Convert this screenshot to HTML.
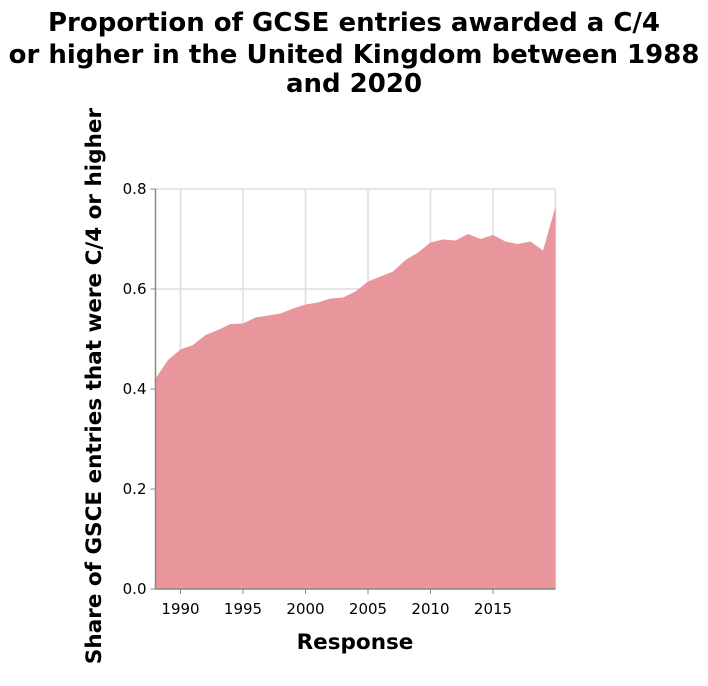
<!DOCTYPE html>
<html><head><meta charset="utf-8"><style>
body{margin:0;background:#fff;width:708px;height:682px;overflow:hidden;font-family:"DejaVu Sans","Liberation Sans",sans-serif}
</style></head><body>
<svg width="708" height="682" xmlns="http://www.w3.org/2000/svg" font-family="DejaVu Sans, Liberation Sans, sans-serif">
<g font-weight="bold" font-size="26" text-anchor="middle" fill="#000">
<text x="354" y="31">Proportion of GCSE entries awarded a C/4</text>
<text x="354" y="63">or higher in the United Kingdom between 1988</text>
<text x="354" y="92">and 2020</text>
</g>
<g id="grid"></g>
<path id="area" fill="#e8969b"/>
<g id="axes"></g>
<text x="355" y="649" font-size="21.5" font-weight="bold" text-anchor="middle">Response</text>
<text transform="translate(101,386) rotate(-90)" font-size="21.5" font-weight="bold" text-anchor="middle">Share of GSCE entries that were C/4 or higher</text>
</svg>
<script>
const years=[1988,1989,1990,1991,1992,1993,1994,1995,1996,1997,1998,1999,2000,2001,2002,2003,2004,2005,2006,2007,2008,2009,2010,2011,2012,2013,2014,2015,2016,2017,2018,2019,2020];
const shares=[0.421,0.458,0.479,0.488,0.508,0.518,0.530,0.531,0.543,0.547,0.551,0.561,0.569,0.573,0.581,0.583,0.595,0.615,0.625,0.635,0.658,0.673,0.693,0.699,0.697,0.710,0.700,0.708,0.695,0.690,0.695,0.677,0.765];
const xTicks=[1990,1995,2000,2005,2010,2015];
const yTicks=[0,0.2,0.4,0.6,0.8];
const ns="http://www.w3.org/2000/svg";
const X0=155.5,X1=555.5,Y0=589,Y1=189;
const x=v=>X0+(v-1988)/(2020-1988)*(X1-X0);
const y=v=>Y0-(v/0.8)*(Y0-Y1);
function mk(t,a,p){const e=document.createElementNS(ns,t);for(const k in a)e.setAttribute(k,a[k]);p.appendChild(e);return e;}
const grid=document.getElementById('grid'),axes=document.getElementById('axes');
xTicks.forEach(t=>{const l=mk('line',{x1:x(t),x2:x(t),y1:Y1,y2:Y0,stroke:'#ddd','stroke-width':1.5},grid);


const tk=mk('line',{x1:x(t),x2:x(t),y1:Y0,y2:Y0+5,stroke:'#888'},axes);


const tx=mk('text',{x:x(t),y:Y0+25,'font-size':15,'text-anchor':'middle'},axes);tx.textContent=t;

});
yTicks.forEach(t=>{const l=mk('line',{x1:X0,x2:X1,y1:y(t),y2:y(t),stroke:'#ddd','stroke-width':1.5},grid);


const tk=mk('line',{x1:X0-5,x2:X0,y1:y(t),y2:y(t),stroke:'#888'},axes);


const tx=mk('text',{x:X0-9,y:y(t)+5,'font-size':15,'text-anchor':'end'},axes);tx.textContent=t.toFixed(1);

});
mk('line',{x1:X1,x2:X1,y1:Y1,y2:Y0,stroke:'#ddd','stroke-width':1.5},grid);
let d='M'+x(years[0])+','+Y0;
years.forEach((yr,i)=>{d+=' L'+x(yr)+','+y(shares[i]);});
d+=' L'+x(years[years.length-1])+','+Y0+' Z';
document.getElementById('area').setAttribute('d',d);
const ax=mk('line',{x1:X0,x2:X0,y1:Y1,y2:Y0,stroke:'#888','stroke-width':1.5},axes);


const bx=mk('line',{x1:X0,x2:X1,y1:Y0,y2:Y0,stroke:'#888','stroke-width':1.5},axes);


</script>
</body></html>
